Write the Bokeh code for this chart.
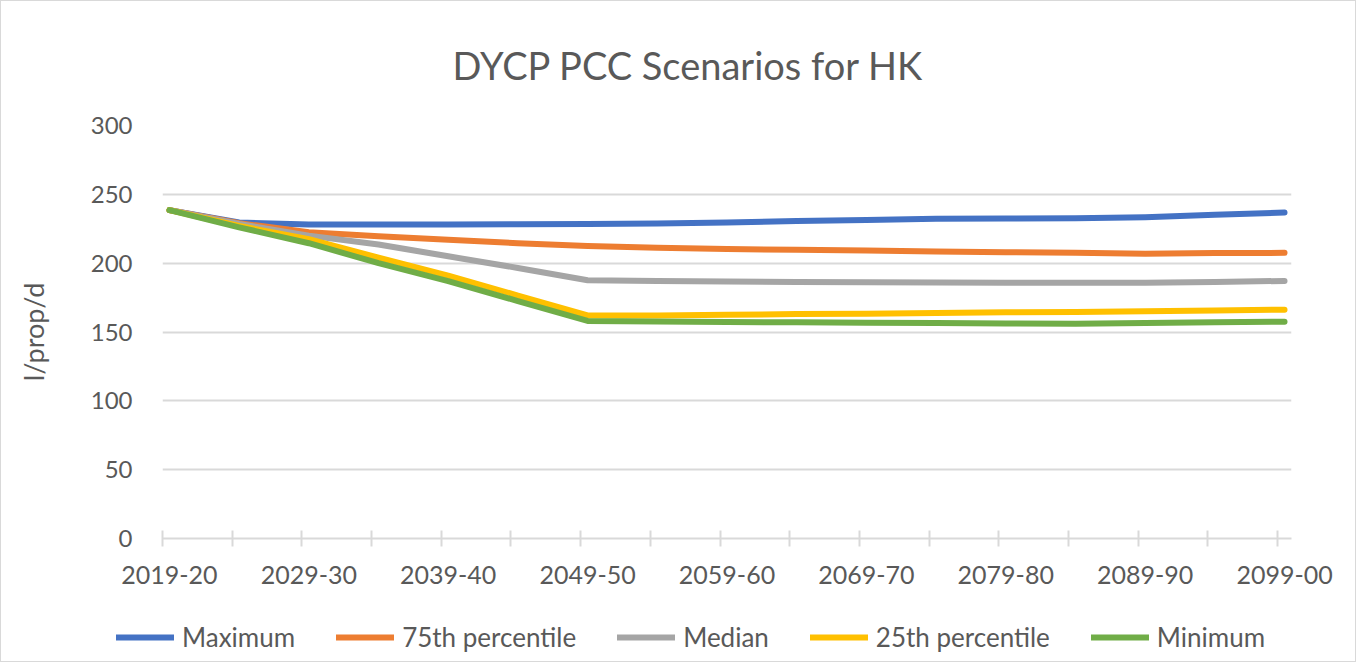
from bokeh.plotting import figure
from bokeh.models import Range1d, FixedTicker, Legend, LegendItem
from bokeh.layouts import column
from bokeh.embed import file_html
from bokeh.resources import INLINE

# ---- data ----
categories = [f"{y}-{(y + 1) % 100:02d}" for y in range(2019, 2100)]
label_years = ["2019-20", "2029-30", "2039-40", "2049-50", "2059-60",
               "2069-70", "2079-80", "2089-90", "2099-00"]
sample_years = ["2019-20", "2024-25", "2029-30", "2034-35", "2039-40", "2044-45",
                "2049-50", "2054-55", "2059-60", "2064-65", "2069-70", "2074-75",
                "2079-80", "2084-85", "2089-90", "2094-95", "2099-00"]

maximum = [238.5, 229.5, 228.0, 228.0, 228.0, 228.3, 228.4, 228.8, 229.6, 230.6,
           231.4, 232.2, 232.4, 232.6, 233.4, 235.2, 236.8]
p75 = [238.5, 229.0, 222.5, 219.5, 217.0, 214.5, 212.5, 211.2, 210.3, 209.7,
       209.2, 208.5, 208.0, 207.5, 206.8, 207.3, 207.5]
median = [238.5, 228.5, 220.0, 213.5, 205.0, 196.5, 187.6, 187.0, 186.6, 186.3,
          186.1, 186.0, 185.8, 185.7, 185.8, 186.3, 187.1]
p25 = [238.5, 227.0, 217.5, 204.0, 191.0, 176.5, 162.0, 162.0, 162.5, 163.0,
       163.3, 163.8, 164.3, 164.6, 165.0, 165.6, 166.2]
minimum = [238.5, 226.0, 214.5, 200.0, 187.0, 172.5, 158.0, 157.6, 157.2, 157.0,
           156.8, 156.5, 156.2, 156.0, 156.5, 157.0, 157.5]

series_names = ["Maximum", "75th percentile", "Median", "25th percentile", "Minimum"]
series_values = [maximum, p75, median, p25, minimum]
colors = ["#4472C4", "#ED7D31", "#A5A5A5", "#FFC000", "#70AD47"]
y_ticks = [0, 50, 100, 150, 200, 250, 300]

FONT = "Lato"
TXT = "#595959"
GRID = "#d9d9d9"
W = 1354

x = [categories.index(c) for c in sample_years]
n = len(categories)

p = figure(width=W, height=600, output_backend="svg", toolbar_location=None,
           x_range=Range1d(-0.5, n - 0.5), y_range=Range1d(0, 300),
           min_border_left=161, min_border_right=64, min_border_top=124,
           min_border_bottom=63)
p.frame_align = False
p.outline_line_color = None
p.background_fill_color = "white"
p.border_fill_color = "white"

p.title.text = "DYCP PCC Scenarios for HK"
p.title.align = "left"
p.title.offset = 290
p.title.standoff = 75
p.title.text_font = FONT
p.title.text_font_size = "38px"
p.title.text_font_style = "normal"
p.title.text_color = TXT

for name, vals, col in zip(series_names, series_values, colors):
    p.line(x, vals, line_color=col, line_width=6, line_cap="round", line_join="round")

# x axis
xa = p.xaxis[0]
xa.ticker = FixedTicker(ticks=[categories.index(c) for c in label_years],
                        minor_ticks=[i - 0.5 for i in range(0, n, 5)])
xa.major_label_overrides = {categories.index(c): c for c in label_years}
xa.major_tick_in = 0
xa.major_tick_out = 0
xa.minor_tick_in = 8
xa.minor_tick_out = 8
xa.minor_tick_line_color = GRID
xa.minor_tick_line_width = 2
xa.axis_line_color = GRID
xa.axis_line_width = 2
xa.major_label_text_font = FONT
xa.major_label_text_font_size = "25px"
xa.major_label_text_color = TXT
xa.major_label_standoff = 19

# y axis
ya = p.yaxis[0]
ya.ticker = FixedTicker(ticks=y_ticks)
ya.axis_line_color = None
ya.major_tick_line_color = None
ya.minor_tick_line_color = None
ya.major_label_text_font = FONT
ya.major_label_text_font_size = "24px"
ya.major_label_text_color = TXT
ya.major_label_standoff = 24
ya.axis_label = "l/prop/d"
ya.axis_label_text_font = FONT
ya.axis_label_text_font_size = "27px"
ya.axis_label_text_font_style = "normal"
ya.axis_label_text_color = TXT
ya.axis_label_standoff = 38

p.xgrid.grid_line_color = None
p.ygrid.ticker = FixedTicker(ticks=y_ticks)
p.ygrid.grid_line_color = GRID
p.ygrid.grid_line_width = 2

# legend row: same series, drawn outside this strip's view, used only for legend samples
lf = figure(width=W, height=60, output_backend="svg", toolbar_location=None,
            x_axis_type=None, y_axis_type=None, min_border=0,
            x_range=Range1d(0, 1), y_range=Range1d(0, 1))
lf.frame_align = False
lf.outline_line_color = None
lf.background_fill_color = "white"
lf.border_fill_color = "white"
lf.xgrid.visible = False
lf.ygrid.visible = False
items = []
for name, vals, col in zip(series_names, series_values, colors):
    r = lf.line(x, vals, line_color=col, line_width=6, line_cap="round")
    items.append(LegendItem(label=name, renderers=[r]))
legend = Legend(items=items, orientation="horizontal", location=(115, 8),
                glyph_width=58, glyph_height=20, label_standoff=8, spacing=41,
                label_text_font=FONT, label_text_font_size="26px",
                label_text_color=TXT, border_line_color=None,
                background_fill_alpha=0, padding=0, margin=0)
lf.add_layout(legend, "center")

layout = column(p, lf, spacing=0)
layout.styles = {"border": "1px solid #d9d9d9"}

open("out.html", "w").write(file_html(layout, INLINE))
